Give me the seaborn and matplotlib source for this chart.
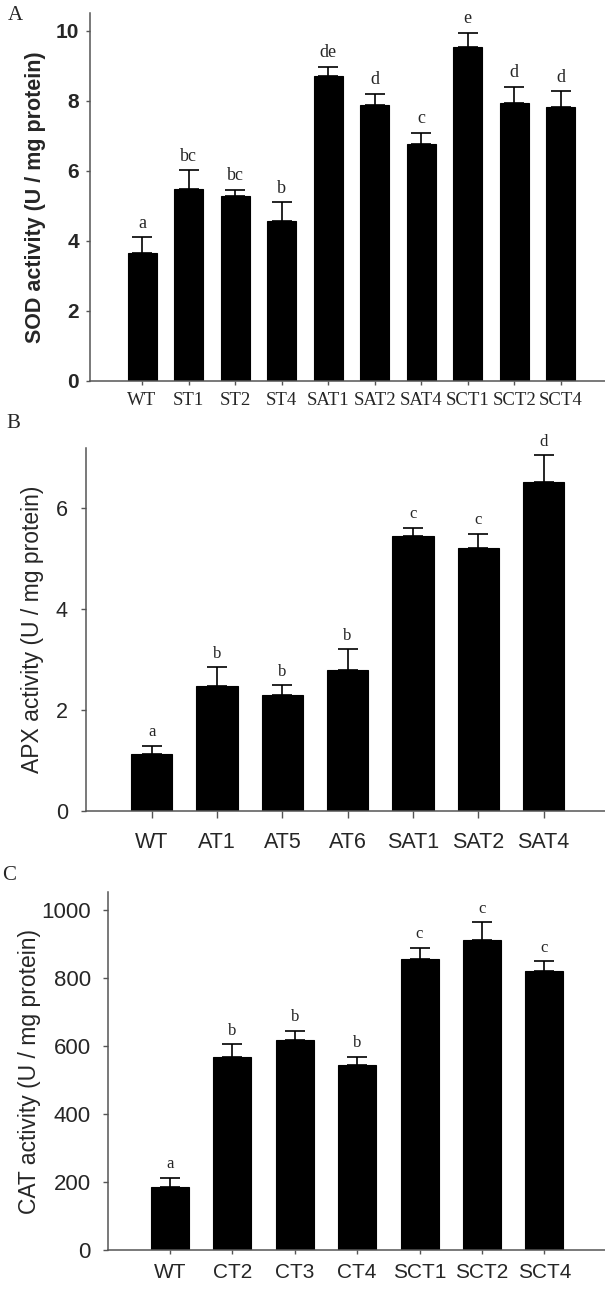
import numpy as np
import pandas as pd
import matplotlib
matplotlib.use("Agg")
import matplotlib.pyplot as plt
import seaborn as sns

# ---- data ----
sod_lines = ['WT', 'ST1', 'ST2', 'ST4', 'SAT1', 'SAT2', 'SAT4', 'SCT1', 'SCT2', 'SCT4']
sod_mean = [3.64, 5.49, 5.29, 4.57, 8.69, 7.88, 6.76, 9.52, 7.92, 7.82]
sod_sd = [0.46, 0.52, 0.16, 0.53, 0.28, 0.32, 0.33, 0.42, 0.48, 0.45]
sod_sig = ['a', 'bc', 'bc', 'b', 'de', 'd', 'c', 'e', 'd', 'd']

apx_lines = ['WT', 'AT1', 'AT5', 'AT6', 'SAT1', 'SAT2', 'SAT4']
apx_mean = [1.12, 2.47, 2.30, 2.79, 5.43, 5.21, 6.50]
apx_sd = [0.17, 0.37, 0.19, 0.41, 0.17, 0.27, 0.54]
apx_sig = ['a', 'b', 'b', 'b', 'c', 'c', 'd']

cat_lines = ['WT', 'CT2', 'CT3', 'CT4', 'SCT1', 'SCT2', 'SCT4']
cat_mean = [184, 567, 617, 543, 856, 910, 819]
cat_sd = [29, 38, 28, 24, 32, 53, 29]
cat_sig = ['a', 'b', 'b', 'b', 'c', 'c', 'c']

sns.set_style("ticks")
plt.rcParams['font.family'] = ['Liberation Sans', 'DejaVu Sans']

W, H = 605, 1290
fig = plt.figure(figsize=(W / 100, H / 100), dpi=100)

def px_axes(left, top, bottom):
    return fig.add_axes([left / W, 1 - bottom / H, (W - left) / W, (bottom - top) / H])

spine_col = '#555555'

def draw_panel(ax, lines, mean, sd, sig, width, xlim, ylim, yticks, ylabel,
               xfont, xsize, yweight, ysize, lsize, labx, ypad, xpad, ylen, xlen, sigsize):
    df = pd.DataFrame({'line': lines, 'value': mean})
    sns.barplot(data=df, x='line', y='value', color='black', saturation=1,
                edgecolor='black', linewidth=0.8, width=width, errorbar=None, ax=ax)
    pos = np.arange(len(lines))
    ax.errorbar(pos, mean, yerr=[np.zeros(len(sd)), sd], fmt='none', ecolor='black',
                elinewidth=1.2, capsize=7, capthick=1.2)
    for p, m, s, t in zip(pos, mean, sd, sig):
        ax.annotate(t, (p, m + s), xytext=(0, 4), textcoords='offset points',
                    ha='center', va='bottom', fontsize=sigsize, family='Liberation Serif')
    ax.set_xlim(*xlim)
    ax.set_ylim(*ylim)
    ax.set_yticks(yticks)
    ax.set_xlabel('')
    ax.set_ylabel(ylabel, fontsize=lsize, fontweight=yweight)
    ax.yaxis.set_label_coords(labx, 0.5)
    sns.despine(ax=ax)
    for s in ['left', 'bottom']:
        ax.spines[s].set_color(spine_col)
        ax.spines[s].set_linewidth(1.1)
    ax.tick_params(axis='y', length=ylen, width=1.0, color=spine_col, pad=ypad, labelsize=ysize)
    ax.tick_params(axis='x', length=xlen, width=1.0, color=spine_col, pad=xpad)
    for lab in ax.get_yticklabels():
        lab.set_fontweight(yweight)
    for lab in ax.get_xticklabels():
        lab.set_family(xfont)
        lab.set_fontsize(xsize)

axA = px_axes(90, 13, 381)
draw_panel(axA, sod_lines, sod_mean, sod_sd, sod_sig, 0.62, (-1.12, 9.95), (0, 10.5),
           [0, 2, 4, 6, 8, 10], 'SOD activity (U / mg protein)',
           'Liberation Serif', 13.5, 'bold', 15, 15.5, -0.085, 5, 5, 3, 3, 13)

axB = px_axes(86, 448, 811)
draw_panel(axB, apx_lines, apx_mean, apx_sd, apx_sig, 0.63, (-1.006, 6.94), (0, 7.18),
           [0, 2, 4, 6], 'APX activity (U / mg protein)',
           'Liberation Sans', 15.5, 'normal', 15.5, 16.5, -0.081, 9.5, 10, 3.5, 5, 12)

axC = px_axes(108, 892, 1250)
draw_panel(axC, cat_lines, cat_mean, cat_sd, cat_sig, 0.61, (-0.99, 6.97), (0, 1052),
           [0, 200, 400, 600, 800, 1000], 'CAT activity (U / mg protein)',
           'Liberation Sans', 15, 'normal', 16, 16.5, -0.135, 9, 6, 3.5, 3, 12)

for t, x, y in [('A', 15, 15), ('B', 13, 423), ('C', 9, 875)]:
    fig.text(x / W, 1 - y / H, t, ha='center', va='center', fontsize=15,
             family='Liberation Serif')

fig.savefig('out.png', dpi=100)
